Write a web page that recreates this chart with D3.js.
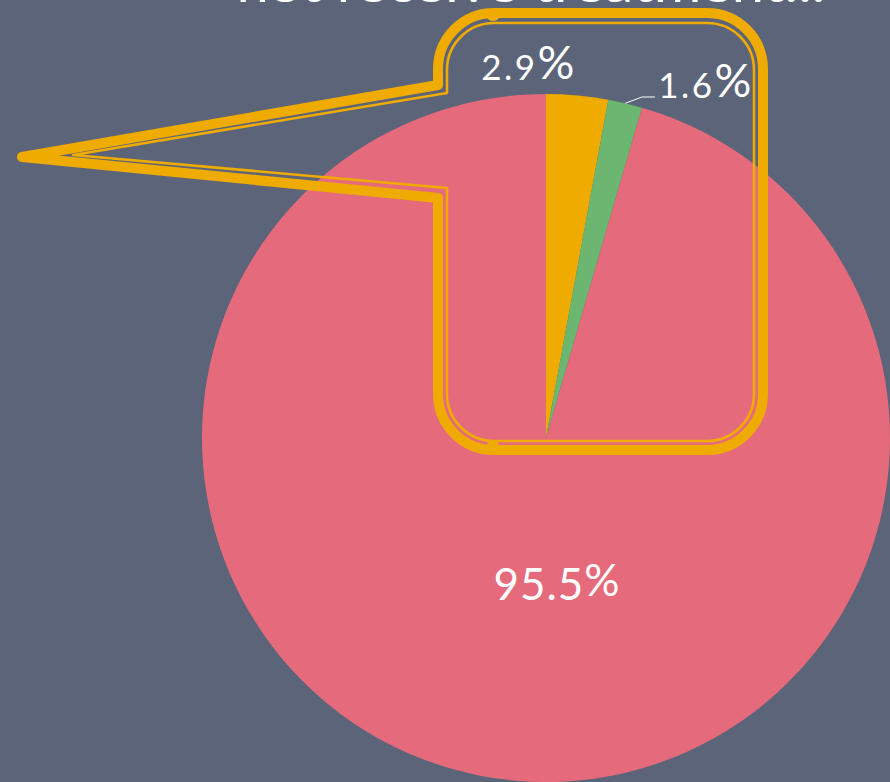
<!DOCTYPE html>
<html>
<head>
<meta charset="utf-8">
<script src="https://cdn.jsdelivr.net/npm/d3@7"></script>
<style>
html,body{margin:0;padding:0;background:#5b6478;}
svg{display:block;}
</style>
</head>
<body>
<svg id="chart" width="890" height="782"></svg>
<script>
// ---- data ----
const categories = ["Received treatment", "Other", "Did not receive treatment"];
const values = [2.9, 1.6, 95.5];
const labels = ["2.9", "1.6", "95.5"];
const colors = ["#f0ab00", "#6bb76f", "#e56b7c"];
const titleText = "not receive treatment...";

const W = 890, H = 782;
const svg = d3.select("#chart");
svg.append("rect").attr("width", W).attr("height", H).attr("fill", "#5b6478");

const cx = 546, cy = 438, R = 344;
const font = "Lato, 'Open Sans', sans-serif";

const data = categories.map((c, i) => ({ category: c, value: values[i], label: labels[i], color: colors[i] }));
const pie = d3.pie().value(d => d.value).sort(null);
const arcs = pie(data);
const arc = d3.arc().innerRadius(0).outerRadius(R);

const g = svg.append("g").attr("transform", `translate(${cx},${cy})`);
g.selectAll("path.slice").data(arcs).join("path")
  .attr("class", "slice")
  .attr("d", arc)
  .attr("fill", d => d.data.color);

// title (cut off at top, as in the reference)
svg.append("text")
  .attr("x", 531).attr("y", 2)
  .attr("text-anchor", "middle")
  .attr("font-family", font)
  .attr("font-size", 46)
  .attr("fill", "#ffffff")
  .attr("textLength", 589)
  .attr("lengthAdjust", "spacingAndGlyphs")
  .text(titleText);

// callout shape
function callout(L, T, Rt, B, r, y1, tipX, tipY, y2) {
  const p = d3.path();
  p.moveTo(L + r, T);
  p.lineTo(Rt - r, T);
  p.arcTo(Rt, T, Rt, T + r, r);
  p.lineTo(Rt, B - r);
  p.arcTo(Rt, B, Rt - r, B, r);
  p.lineTo(L + r, B);
  p.arcTo(L, B, L, B - r, r);
  p.lineTo(L, y2);
  p.lineTo(tipX, tipY);
  p.lineTo(L, y1);
  p.lineTo(L, T + r);
  p.arcTo(L, T, L + r, T, r);
  p.closePath();
  return p.toString();
}
const callG = svg.append("g");
callG.append("path")
  .attr("d", callout(438, 13, 763, 450, 56, 85, 22, 157, 198))
  .attr("fill", "none").attr("stroke", "#f0ab00")
  .attr("stroke-width", 10).attr("stroke-linejoin", "round");
callG.append("path")
  .attr("d", callout(447, 23, 754, 441, 47, 93, 73, 155, 188))
  .attr("fill", "none").attr("stroke", "#f0ab00")
  .attr("stroke-width", 2.6).attr("stroke-linejoin", "round");
// small joints where the path starts
callG.append("ellipse").attr("cx", 493).attr("cy", 17).attr("rx", 6).attr("ry", 4).attr("fill", "#f0ab00");
callG.append("ellipse").attr("cx", 493).attr("cy", 445).attr("rx", 6).attr("ry", 4).attr("fill", "#f0ab00");

// leader line for the 1.6% slice
const green = arcs[1];
const mid = (green.startAngle + green.endAngle) / 2;
const p0 = [cx + R * Math.sin(mid), cy - R * Math.cos(mid)];
svg.append("polyline")
  .attr("points", [p0, [642, 97], [655, 97]].map(p => p.join(",")).join(" "))
  .attr("fill", "none").attr("stroke", "#ffffff").attr("stroke-width", 1);

// labels
const labelPos = [
  { x: 529, y: 80, big: false },
  { x: 706, y: 98, big: false },
  { x: 557, y: 600, big: true }
];
arcs.forEach((a, i) => {
  const lp = labelPos[i];
  const t = svg.append("text")
    .attr("x", lp.x).attr("y", lp.y)
    .attr("text-anchor", "middle")
    .attr("font-family", font)
    .attr("fill", "#ffffff");
  if (lp.big) {
    t.attr("font-size", 44).attr("letter-spacing", 1);
    t.append("tspan").text(a.data.label);
    t.append("tspan").attr("dy", -4).text("%");
  } else {
    t.attr("font-size", 35).attr("letter-spacing", 2.5);
    t.append("tspan").text(a.data.label);
    t.append("tspan").attr("font-size", 46).attr("dy", -1).text("%");
  }
});
</script>
</body>
</html>
